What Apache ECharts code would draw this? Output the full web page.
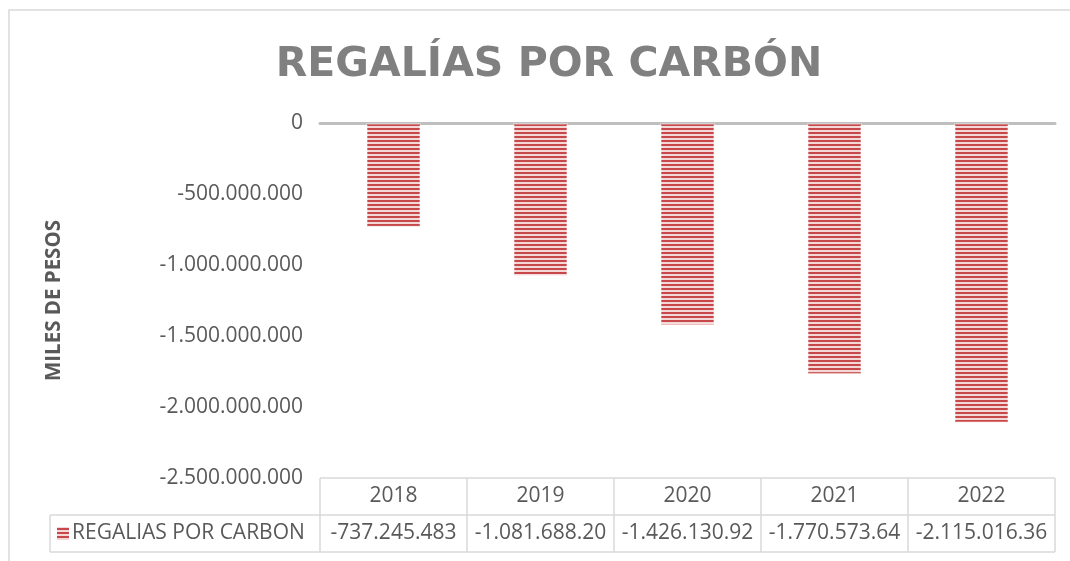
<!DOCTYPE html>
<html>
<head>
<meta charset="utf-8">
<script src="https://cdn.jsdelivr.net/npm/echarts@6/dist/echarts.min.js"></script>
<style>
  html, body { margin: 0; padding: 0; background: #ffffff; }
  #chart { width: 1070px; height: 561px; }
</style>
</head>
<body>
<div id="chart"></div>
<script>
// ---- data ----
const years = ['2018', '2019', '2020', '2021', '2022'];
const regalias = [-737245483, -1081688200, -1426130920, -1770573640, -2115016360];
const yMin = -2500000000;
const yMax = 0;
const yStep = 500000000;
const seriesName = 'REGALIAS POR CARBON';
const titleText = 'REGALÍAS POR CARBÓN';
const axisName = 'MILES DE PESOS';

// ---- helpers ----
function thousands(v) {
  const s = Math.abs(Math.round(v)).toString().replace(/\B(?=(\d{3})+(?!\d))/g, '.');
  return (v < 0 ? '-' : '') + s;
}
// table cells are narrow: they show at most 13 characters
function cellText(v) {
  const s = thousands(v);
  return s.length > 13 ? s.slice(0, 13) : s;
}
// horizontal red/pink stripe fill
function stripes() {
  const c = document.createElement('canvas');
  c.width = 4; c.height = 4;
  const g = c.getContext('2d');
  g.fillStyle = '#f4d8d7';
  g.fillRect(0, 0, 4, 4);
  g.fillStyle = '#c6484a';
  g.fillRect(0, 0, 4, 2);
  return c;
}

const FONT = '"Open Sans", sans-serif';
const TXT = '#595959';
const LINE = '#d9d9d9';
const fill = { image: stripes(), repeat: 'repeat' };

const chart = echarts.init(document.getElementById('chart'));
chart.setOption({
  animation: false,
  backgroundColor: '#ffffff',
  title: {
    text: titleText,
    left: 544,
    top: 40,
    textAlign: 'center',
    textStyle: { fontFamily: '"DejaVu Sans", sans-serif', fontWeight: 'bold', fontSize: 41, color: '#808080' }
  },
  grid: { left: 320, right: 15, top: 123, height: 355 },
  xAxis: {
    type: 'category',
    data: years,
    axisLabel: { show: false },
    axisTick: { show: false },
    axisLine: { onZero: true, lineStyle: { color: '#bfbfbf', width: 3 } },
    splitLine: { show: false }
  },
  yAxis: {
    type: 'value',
    min: yMin,
    max: yMax,
    interval: yStep,
    axisLine: { show: false },
    axisTick: { show: false },
    splitLine: { show: false },
    axisLabel: {
      formatter: v => thousands(v),
      fontFamily: FONT, fontSize: 21, color: TXT, margin: 17
    },
    name: axisName,
    nameLocation: 'middle',
    nameRotate: 90,
    nameGap: 255,
    nameTextStyle: { fontFamily: FONT, fontWeight: 'bold', fontSize: 20.5, color: TXT }
  },
  series: [{
    name: seriesName,
    type: 'bar',
    data: regalias,
    barWidth: 55,
    itemStyle: { color: fill, borderColor: 'rgba(255,255,255,0.3)', borderWidth: 2 }
  }]
});

// ---- data table under the plot, aligned to the category bands ----
const centers = years.map((y, i) => chart.convertToPixel({ xAxisIndex: 0 }, i));
const band = centers[1] - centers[0];
const yBottom = chart.convertToPixel({ yAxisIndex: 0 }, yMin);
const rowH = 37;
const headTop = yBottom;
const dataTop = headTop + rowH;
const dataBottom = dataTop + rowH;
const tableLeft = centers[0] - band / 2;
const tableRight = centers[centers.length - 1] + band / 2;
const rowLeft = 50;

const g = [];
// outer chart frame
g.push({ type: 'rect', shape: { x: 9, y: 10, width: 1100, height: 600 },
  style: { fill: 'none', stroke: LINE, lineWidth: 1.5 }, silent: true });
// horizontal table lines
g.push({ type: 'line', shape: { x1: tableLeft, y1: headTop, x2: tableRight, y2: headTop }, style: { stroke: LINE, lineWidth: 1.5 } });
g.push({ type: 'line', shape: { x1: rowLeft, y1: dataTop, x2: tableRight, y2: dataTop }, style: { stroke: LINE, lineWidth: 1.5 } });
g.push({ type: 'line', shape: { x1: rowLeft, y1: dataBottom, x2: tableRight, y2: dataBottom }, style: { stroke: LINE, lineWidth: 1.5 } });
g.push({ type: 'line', shape: { x1: rowLeft, y1: dataTop, x2: rowLeft, y2: dataBottom }, style: { stroke: LINE, lineWidth: 1.5 } });
// vertical column lines
for (let i = 0; i <= years.length; i++) {
  const x = tableLeft + band * i;
  g.push({ type: 'line', shape: { x1: x, y1: headTop, x2: x, y2: dataBottom }, style: { stroke: LINE, lineWidth: 1.5 } });
}
// header and value cells
years.forEach((y, i) => {
  g.push({ type: 'text', x: centers[i], y: headTop + rowH / 2,
    style: { text: y, fill: TXT, font: '21px ' + FONT, align: 'center', verticalAlign: 'middle' } });
  g.push({ type: 'text', x: centers[i], y: dataTop + rowH / 2,
    style: { text: cellText(regalias[i]), fill: TXT, font: '21px ' + FONT, align: 'center', verticalAlign: 'middle' } });
});
// legend key + series name
g.push({ type: 'rect', shape: { x: 57, y: dataTop + 12, width: 12, height: 13 }, style: { fill: fill } });
g.push({ type: 'text', x: 72, y: dataTop + rowH / 2,
  style: { text: seriesName, fill: TXT, font: '21px ' + FONT, align: 'left', verticalAlign: 'middle' } });

chart.setOption({ graphic: g });
</script>
</body>
</html>
